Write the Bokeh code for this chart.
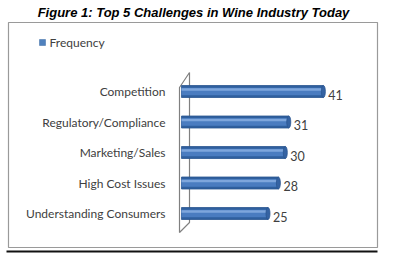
from bokeh.plotting import figure
from bokeh.models import Range1d, ColumnDataSource
from bokeh.core.properties import value
from bokeh.embed import file_html
from bokeh.resources import INLINE

# ---- data ----
categories = ["Competition", "Regulatory/Compliance", "Marketing/Sales",
              "High Cost Issues", "Understanding Consumers"]
frequency = [41, 31, 30, 28, 25]
series_name = "Frequency"
title_text = "Figure 1: Top 5 Challenges in Wine Industry Today"

W, H = 400, 259
X0_PX, PX_PER_UNIT = 181.0, 3.46        # bar baseline & scale
Y0_PX, PX_PER_ROW = 91.0, 30.5          # first row centre & row pitch

x_start = -X0_PX / PX_PER_UNIT
x_end = (W - X0_PX) / PX_PER_UNIT
y_top = -Y0_PX / PX_PER_ROW
y_bot = (H - Y0_PX) / PX_PER_ROW

p = figure(width=W, height=H, output_backend="svg", toolbar_location=None,
           x_range=Range1d(x_start, x_end), y_range=Range1d(y_bot, y_top),
           min_border=0, min_border_left=0, min_border_right=0,
           min_border_top=0, min_border_bottom=0)
p.axis.visible = False
p.grid.visible = False
p.outline_line_color = None
p.background_fill_color = "white"
p.border_fill_color = "white"

def X(px):
    return x_start + px / PX_PER_UNIT

def Y(px):
    return y_top + px / PX_PER_ROW

FONT = value("Lato")

# title
p.text(x=[X(193)], y=[Y(12)], text=[title_text], text_font=value("Liberation Sans"),
       text_font_style="bold italic", text_font_size="13px", text_align="center",
       text_baseline="middle", text_color="#000000")

# chart box
p.quad(left=[X(8)], right=[X(377)], top=[Y(22)], bottom=[Y(247)],
       fill_color="white", line_color="#9a9a9a", line_width=1.2)
p.line(x=[X(6), X(377)], y=[Y(251), Y(251)], line_color="#111111", line_width=2)

# legend
p.quad(left=[X(39)], right=[X(45)], top=[Y(39)], bottom=[Y(45)],
       fill_color="#4f81bd", line_color="#3a6aa5", line_width=0.5)
p.text(x=[X(49)], y=[Y(42)], text=[series_name], text_font=FONT,
       text_font_size="12px", text_baseline="middle", text_color="#404040")

# 3D wall
p.patch(x=[X(179), X(189), X(189), X(179)], y=[Y(87), Y(72), Y(222), Y(232)],
        fill_color="white", line_color="#808080", line_width=1.2)

idx = list(range(len(categories)))
src = ColumnDataSource(dict(y=idx, v=frequency, cat=categories))

bh = 12 / PX_PER_ROW
# cylinder-like bars built from layered stripes
p.hbar(y="y", left=0, right="v", height=bh, source=src,
       fill_color="#2f5f9e", line_color="#2a5591", line_width=0.8)
p.hbar(y="y", left=0, right="v", height=bh * 0.62, source=src,
       fill_color="#4a7cc0", line_color=None)
src_hi = ColumnDataSource(dict(y=[i - bh * 0.17 for i in idx], v=frequency))
p.hbar(y="y", left=0, right="v", height=bh * 0.22, source=src_hi,
       fill_color="#7ea6dc", line_color=None)
# rounded end caps
p.ellipse(x="v", y="y", width=4 / PX_PER_UNIT, height=bh, source=src,
          fill_color="#3563a3", line_color="#2a5591", line_width=0.8)

# category labels
p.text(x=X(165), y="y", text="cat", source=src, text_font=FONT,
       text_font_size="12px", text_align="right", text_baseline="middle",
       text_color="#404040")
# value labels
p.text(x="v", y="y", text="v", source=src, text_font=FONT,
       text_font_size="12.5px", text_align="left", text_baseline="middle",
       text_color="#404040", x_offset=5, y_offset=3)

open("out.html", "w").write(file_html(p, INLINE))
